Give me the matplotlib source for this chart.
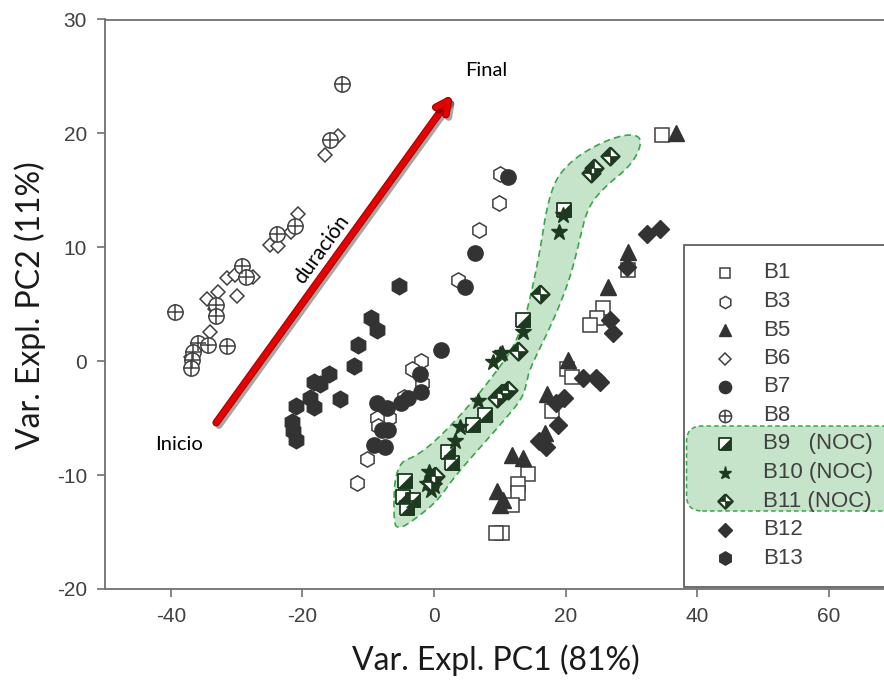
import matplotlib
matplotlib.use("Agg")
import matplotlib.pyplot as plt
import matplotlib.patheffects as pe
import numpy as np
from matplotlib.path import Path
from matplotlib.patches import Polygon, Rectangle, FancyBboxPatch

plt.rcParams["axes.unicode_minus"] = False

# ------------------------------------------------------------
# Scores (PC1, PC2) per batch
# ------------------------------------------------------------
b1_x = [34.7, 29.5, 25.7, 24.7, 23.7, 20.2, 20.9, 17.9, 14.3, 12.8, 12.7, 11.8, 10.3, 9.4]
b1_y = [19.9, 8.0, 4.7, 3.8, 3.2, -0.7, -1.4, -4.4, -9.9, -10.8, -11.6, -12.6, -15.1, -15.1]

b3_x = [10.0, 9.9, 6.9, 3.6, -1.9, -3.4, -1.8, -4.6, -6.9, -8.7, -8.5, -10.2, -11.7]
b3_y = [16.4, 13.9, 11.5, 7.1, 0.0, -0.7, -1.9, -3.1, -5.0, -5.0, -5.7, -8.6, -10.7]

b5_x = [36.8, 29.5, 26.5, 20.4, 17.1, 16.9, 11.8, 13.5, 9.5, 10.5, 10.0]
b5_y = [20.0, 9.6, 6.5, 0.1, -2.9, -6.3, -8.2, -8.5, -11.4, -12.2, -12.6]

b6_x = [-14.6, -16.5, -20.6, -21.8, -24.9, -23.7, -27.5, -31.5, -30.2, -32.8, -34.5, -30.0, -33.3, -34.0, -37.0]
b6_y = [19.8, 18.1, 12.9, 11.3, 10.2, 10.1, 7.4, 7.3, 7.6, 6.1, 5.5, 5.7, 4.6, 2.6, 0.4]

b7_x = [11.2, 6.2, 4.7, 1.0, -2.2, -1.9, -3.9, -5.0, -8.6, -7.2, -7.9, -7.0, -9.1, -7.4]
b7_y = [16.2, 9.5, 6.5, 1.0, -1.1, -2.7, -3.2, -3.7, -3.7, -4.1, -6.0, -6.0, -7.4, -7.5]

b8_x = [-14.0, -15.8, -23.9, -21.2, -29.2, -28.5, -33.1, -33.1, -39.3, -35.8, -34.3, -31.5, -36.6, -36.8, -37.0]
b8_y = [24.3, 19.4, 11.2, 11.9, 8.4, 7.4, 4.9, 4.0, 4.3, 1.6, 1.4, 1.3, 0.8, 0.1, -0.6]

b9_x = [19.8, 13.6, 7.8, 6.0, 2.2, 2.7, -4.4, -4.7, -3.2, -4.1]
b9_y = [13.3, 3.6, -4.7, -5.6, -8.0, -8.9, -10.5, -11.9, -12.2, -12.9]

b10_x = [19.6, 19.0, 13.5, 10.3, 10.0, 9.0, 6.7, 4.0, 3.2, -0.8, -0.3, -1.0, 0.0, -0.5]
b10_y = [12.8, 11.3, 2.6, 0.7, 0.6, -0.1, -3.5, -5.8, -7.0, -9.7, -10.3, -10.8, -11.0, -11.3]

b11_x = [26.7, 23.8, 24.3, 16.1, 12.8, 11.3, 10.3, 9.5, -0.4, 0.2]
b11_y = [18.0, 16.5, 17.0, 5.9, 0.9, -2.5, -2.8, -3.2, -10.6, -10.1]

b12_x = [34.4, 32.3, 29.3, 26.7, 27.2, 22.7, 24.6, 25.2, 19.8, 18.6, 18.9, 15.9, 17.0]
b12_y = [11.6, 11.2, 8.3, 3.6, 2.5, -1.5, -1.5, -1.8, -3.2, -3.7, -5.6, -7.0, -7.5]

b13_x = [-5.3, -9.6, -8.7, -11.5, -12.2, -15.9, -17.3, -18.2, -14.3, -18.8, -18.2, -21.0, -21.6, -21.4, -21.0]
b13_y = [6.6, 3.8, 2.7, 1.4, -0.4, -1.1, -2.0, -1.8, -3.3, -3.2, -4.0, -3.9, -5.3, -6.1, -6.9]

# outline of the NOC region (data units)
noc_x = [-6.2, -5.9, -2.1, 2.9, 8.1, 13.1, 15.7, 17.6, 20.7, 25.7, 29.8, 31.8, 30.2,
         25.7, 23.3, 22.2, 20.7, 18.1, 14.6, 14.1, 13.5, 10.5, 6.5, 2.9, 0.5, -3.2, -5.2]
noc_y = [-14.3, -9.0, -8.2, -5.5, -2.0, 2.0, 8.2, 15.2, 17.6, 19.3, 20.0, 19.5, 17.3,
         15.2, 13.4, 10.8, 7.3, 3.5, -0.6, -1.8, -3.2, -5.3, -7.9, -10.3, -12.3, -14.0, -14.7]

legend_labels = ["B1", "B3", "B5", "B6", "B7", "B8", "B9   (NOC)", "B10 (NOC)", "B11 (NOC)", "B12", "B13"]

x_ticks = [-40, -20, 0, 20, 40, 60]
y_ticks = [-20, -10, 0, 10, 20, 30]

DARK = "#333333"
EDGE = "#3f3f3f"
GREEN = "#1d3a20"

# custom marker paths
sq_outline = Path([(-1, -1), (1, -1), (1, 1), (-1, 1), (-1, -1)])
sq_half = Path([(-1, -1), (1, -1), (1, 1), (-1, -1)])
dia_outline = Path([(0, 1), (1, 0), (0, -1), (-1, 0), (0, 1)])
dia_fill = Path([(0, 1), (-1, 0), (0, 0), (0, 1), (0, -1), (1, 0), (0, 0), (0, -1)],
                [Path.MOVETO, Path.LINETO, Path.LINETO, Path.CLOSEPOLY,
                 Path.MOVETO, Path.LINETO, Path.LINETO, Path.CLOSEPOLY])


def chaikin(xs, ys, n=3):
    pts = np.column_stack([xs, ys])
    for _ in range(n):
        nxt = np.roll(pts, -1, axis=0)
        q = 0.75 * pts + 0.25 * nxt
        r = 0.25 * pts + 0.75 * nxt
        pts = np.empty((2 * len(q), 2))
        pts[0::2] = q
        pts[1::2] = r
    return pts


def draw_batch(ax, key, x, y, scale=1.0, z=3):
    """Draws one batch with the marker style used in the reference."""
    s = scale
    if key == "B1":
        ax.plot(x, y, ls="none", marker="s", ms=9.5 * s, mfc="white", mec=EDGE, mew=1.1, zorder=z)
    elif key == "B3":
        ax.plot(x, y, ls="none", marker="h", ms=11 * s, mfc="white", mec=EDGE, mew=1.1, zorder=z)
    elif key == "B5":
        ax.plot(x, y, ls="none", marker="^", ms=11 * s, color=DARK, zorder=z)
    elif key == "B6":
        ax.plot(x, y, ls="none", marker="D", ms=7.5 * s, mfc="white", mec=EDGE, mew=1.1, zorder=z)
    elif key == "B7":
        ax.plot(x, y, ls="none", marker="o", ms=11 * s, color=DARK, zorder=z)
    elif key == "B8":
        ax.plot(x, y, ls="none", marker="o", ms=11 * s, mfc="white", mec=EDGE, mew=1.1, zorder=z)
        ax.plot(x, y, ls="none", marker="+", ms=11 * s, mec=EDGE, mew=1.1, zorder=z)
    elif key == "B9":
        ax.plot(x, y, ls="none", marker=sq_outline, ms=10 * s, mfc="white", mec=GREEN, mew=1.3, zorder=z)
        ax.plot(x, y, ls="none", marker=sq_half, ms=10 * s, mfc=GREEN, mec=GREEN, mew=0.5, zorder=z)
    elif key == "B10":
        ax.plot(x, y, ls="none", marker="*", ms=12 * s, color=GREEN, zorder=z)
    elif key == "B11":
        ax.plot(x, y, ls="none", marker=dia_outline, ms=13 * s, mfc="white", mec=GREEN, mew=1.6, zorder=z)
        ax.plot(x, y, ls="none", marker=dia_fill, ms=13 * s, mfc=GREEN, mec=GREEN, mew=0.5, zorder=z)
    elif key == "B12":
        ax.plot(x, y, ls="none", marker="D", ms=9.5 * s, color=DARK, zorder=z)
    elif key == "B13":
        ax.plot(x, y, ls="none", marker="h", ms=12 * s, color=DARK, zorder=z)


batches = {
    "B1": (b1_x, b1_y), "B3": (b3_x, b3_y), "B5": (b5_x, b5_y), "B6": (b6_x, b6_y),
    "B7": (b7_x, b7_y), "B8": (b8_x, b8_y), "B9": (b9_x, b9_y), "B10": (b10_x, b10_y),
    "B11": (b11_x, b11_y), "B12": (b12_x, b12_y), "B13": (b13_x, b13_y),
}

fig = plt.figure(figsize=(8.84, 6.80), dpi=100)
ax = fig.add_axes([105 / 884, 91 / 680, 789.6 / 884, 569.5 / 680])
ax.set_xlim(-50, 70)
ax.set_ylim(-20, 30)

# NOC region
outline = chaikin(noc_x, noc_y)
ax.add_patch(Polygon(outline, closed=True, facecolor="#c6e4c9", edgecolor="#38a748",
                     linestyle=(0, (4, 2.5)), linewidth=1.2, zorder=1))

for key, (xs, ys) in batches.items():
    draw_batch(ax, key, xs, ys)

# time arrow
arrow = ax.annotate("", xy=(2.7, 23.3), xytext=(-33.1, -5.4),
                    arrowprops=dict(arrowstyle="->,head_length=0.9,head_width=0.45",
                                    color="#e80000", lw=4, shrinkA=0, shrinkB=0),
                    zorder=4)
arrow.arrow_patch.set_path_effects([
    pe.Stroke(offset=(2, -2), linewidth=5, foreground="#000000", alpha=0.35),
    pe.Stroke(linewidth=5.5, foreground="#a00000"),
    pe.Normal(),
])
ax.text(4.7, 25.5, "Final", family="Lato", fontsize=14.5, color="black", ha="left", va="center")
ax.text(-42.4, -7.3, "Inicio", family="Lato", fontsize=14.5, color="black", ha="left", va="center")
ax.text(-17.1, 9.8, "duración", family="Lato", fontsize=15, color="black",
        rotation=54, rotation_mode="anchor", ha="center", va="center")

# axes styling
ax.spines["right"].set_visible(False)
for side in ["left", "bottom", "top"]:
    ax.spines[side].set_color("#707070")
    ax.spines[side].set_linewidth(1.3)
ax.set_xticks(x_ticks)
ax.set_yticks(y_ticks)
ax.tick_params(direction="out", length=6, width=1.2, color="#707070",
               labelsize=15, labelcolor="#404040", pad=7)
for lab in ax.get_xticklabels() + ax.get_yticklabels():
    lab.set_family("Liberation Sans")
ax.set_xlabel("Var. Expl. PC1 (81%)", family="Lato", fontsize=23, color="#1a1a1a", va="center")
ax.set_ylabel("Var. Expl. PC2 (11%)", family="Lato", fontsize=23, color="#1a1a1a", va="center")
ax.xaxis.set_label_coords(0.495, -0.125)
ax.yaxis.set_label_coords(-0.095, 0.499)

# legend, drawn by hand to get the highlighted NOC block
ax.add_patch(Rectangle((0.7327, 0.0035), 0.4, 0.6005, transform=ax.transAxes,
                       facecolor="white", edgecolor="#606060", linewidth=1.3, zorder=5))
ax.add_patch(FancyBboxPatch((0.7365, (589 - 511) / 569.5), 0.4, 85 / 569.5,
                            boxstyle="round,pad=0,rounding_size=0.02", mutation_aspect=1.35,
                            transform=ax.transAxes, facecolor="#c6e4c9", edgecolor="#38a748",
                            linestyle=(0, (3, 2)), linewidth=1.1, zorder=6))
leg_y_px = [273, 301.5, 330, 358.5, 387, 415.5, 444, 472.5, 501, 529.5, 558]
keys = list(batches.keys())
for key, lab, py in zip(keys, legend_labels, leg_y_px):
    ya = (589 - py) / 569.5
    xm = (725 - 105) / 789.6
    tr = ax.transAxes
    # draw the legend symbol in axes coordinates
    handles_before = len(ax.lines)
    draw_batch(ax, key, [xm], [ya], scale=0.8, z=7)
    for ln in ax.lines[handles_before:]:
        ln.set_transform(tr)
        ln.set_clip_on(False)
    ax.text((763 - 105) / 789.6, ya, lab, transform=tr, family="Liberation Sans",
            fontsize=16, color="#404040", ha="left", va="center", zorder=8)

fig.savefig("out.png", dpi=100)
